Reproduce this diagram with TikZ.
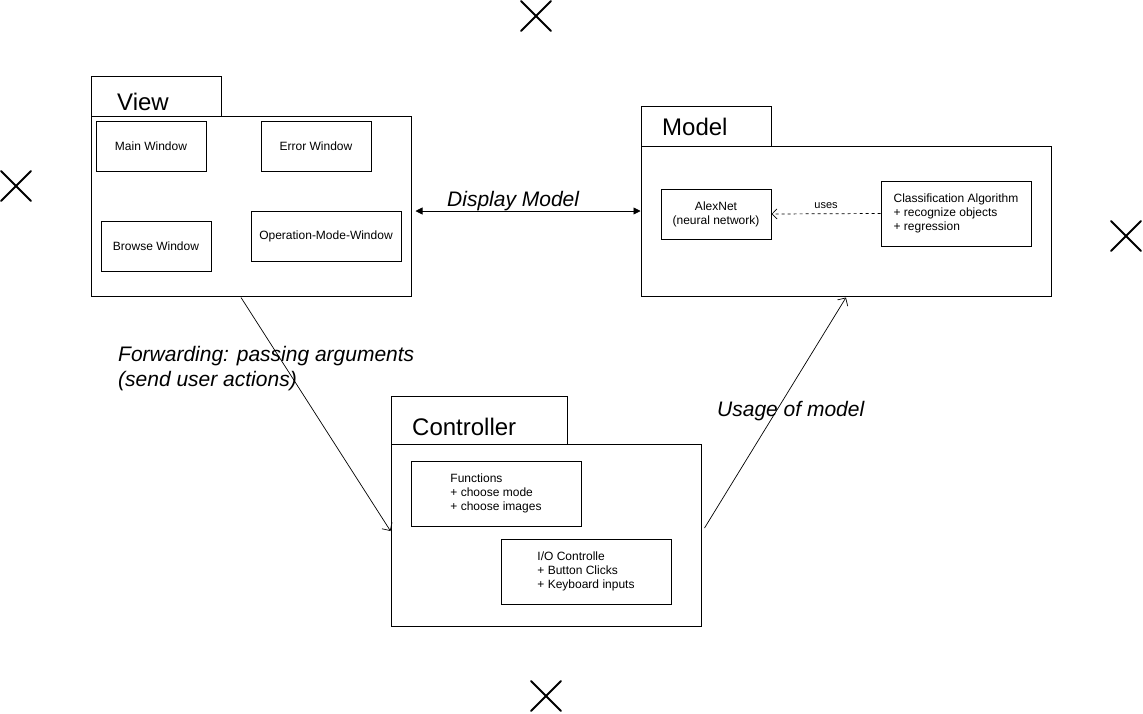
\documentclass[tikz,border=0pt]{standalone}
\usepackage{fontspec}
\setmainfont{Liberation Sans}
\usetikzlibrary{arrows.meta}
\begin{document}
\begin{tikzpicture}[x=1pt,y=-1pt,
  box/.style={draw=black,line width=1pt,inner sep=0pt,fill=white},
  win/.style={box,font=\fontsize{12}{14}\selectfont,align=center},
  cls/.style={box,font=\fontsize{12}{14}\selectfont,align=left},
  title/.style={inner sep=0pt,anchor=west,font=\fontsize{24}{28}\selectfont},
  lbl/.style={inner sep=0pt,font=\fontsize{21}{25}\selectfont\itshape,align=left},
  conn/.style={line width=0.7pt,draw=black},
  xmark/.style={line width=2pt,line cap=round}]
\useasboundingbox (0,0) rectangle (1143,713);
\fill[white] (0,0) rectangle (1143,713);

% View package
\node[box,minimum width=130pt,minimum height=40pt] (viewtab) at (156,96) {};
\node[box,minimum width=320pt,minimum height=180pt] (viewbody) at (251,206) {};
\node[title] (viewtitle) at (117,102) {View};
\node[win,minimum width=110pt,minimum height=50pt] (mainwin) at (151,146) {Main Window};
\node[win,minimum width=110pt,minimum height=50pt] (errwin) at (316,146) {Error Window};
\node[win,minimum width=110pt,minimum height=50pt] (browsewin) at (156,246) {Browse Window};
\node[win,minimum width=150pt,minimum height=50pt] (opwin) at (326,236) {Operation-Mode-Window};

% Model package
\node[box,minimum width=130pt,minimum height=40pt] (modeltab) at (706,126) {};
\node[box,minimum width=410pt,minimum height=150pt] (modelbody) at (846,221) {};
\node[title] (modeltitle) at (662,127) {Model};
\node[win,minimum width=110pt,minimum height=50pt] (alexnet) at (716,214) {AlexNet\\(neural network)};
\node[cls,minimum width=150pt,minimum height=65pt] (classalg) at (956,213.5) {Classification Algorithm\\+ recognize objects\\+ regression};

% Controller package
\node[box,minimum width=176pt,minimum height=48pt] (ctrltab) at (479,420) {};
\node[box,minimum width=310pt,minimum height=182pt] (ctrlbody) at (546,535) {};
\node[title] (ctrltitle) at (412,427) {Controller};
\node[cls,minimum width=170pt,minimum height=65pt] (functions) at (496,493.5) {Functions\\+ choose mode\\+ choose images};
\node[cls,minimum width=170pt,minimum height=65pt] (iocontrol) at (586,571.5) {I/O Controlle\\+ Button Clicks\\+ Keyboard inputs};

% connectors
\draw[conn,dashed,-{Straight Barb[length=5pt,width=10pt]}] (classalg.west) -- node[above=5pt,inner sep=0pt,font=\fontsize{11}{13}\selectfont] {uses} (alexnet.east);
\draw[conn,{Triangle[length=7pt,width=7pt]}-{Triangle[length=7pt,width=7pt]}] ([xshift=4pt,yshift=-5pt]viewbody.east) -- ([yshift=10pt]modelbody.west);
\node[lbl,anchor=west] (displbl) at (447,201) {Display Model};
\draw[conn,-{Straight Barb[length=6pt,width=12pt]}] ([xshift=-10pt,yshift=-1pt]viewbody.south) -- ([yshift=4pt]ctrlbody.west);
\node[lbl,anchor=north west] (fwdlbl) at (118,346) {Forwarding: passing arguments\\(send user actions)};
\draw[conn,-{Straight Barb[length=6pt,width=12pt]}] ([xshift=3pt,yshift=7pt]ctrlbody.east) -- ([xshift=0pt,yshift=-1pt]modelbody.south);
\node[lbl,anchor=west] (usagelbl) at (717,411) {Usage of model};

% X marks
\foreach \cx/\cy in {536/16,16/186,1126/236,546/696}{
  \draw[xmark] (\cx-15,\cy-15) -- (\cx+15,\cy+15);
  \draw[xmark] (\cx-15,\cy+15) -- (\cx+15,\cy-15);
}
\end{tikzpicture}
\end{document}
